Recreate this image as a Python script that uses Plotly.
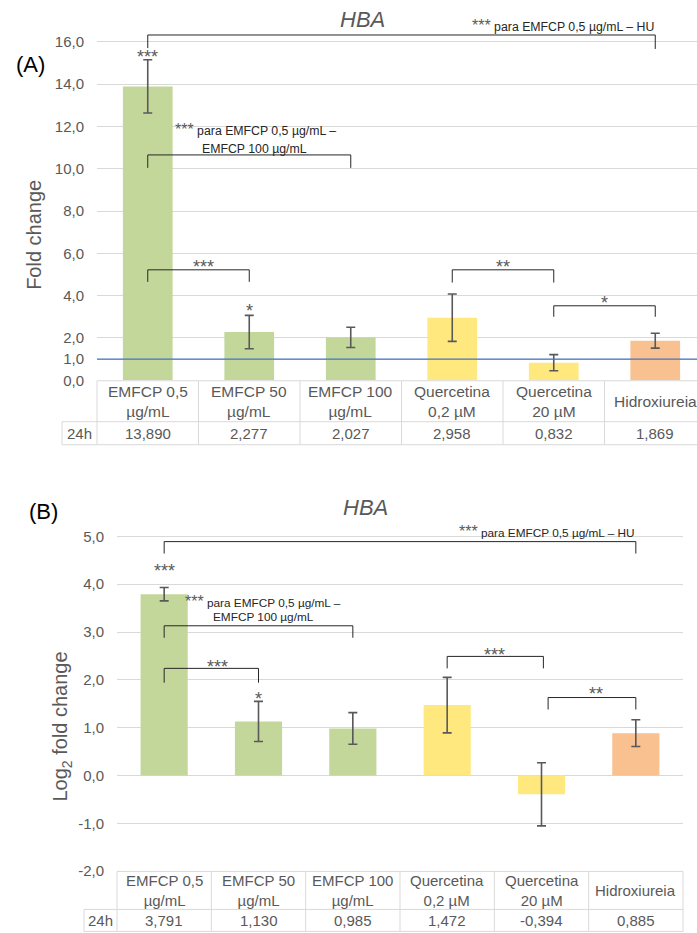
import plotly.graph_objects as go

# ---------------- data ----------------
categories = ["EMFCP 0,5<br>µg/mL", "EMFCP 50<br>µg/mL", "EMFCP 100<br>µg/mL",
              "Quercetina<br>0,2 µM", "Quercetina<br>20 µM", "Hidroxiureia"]
row_label = "24h"
fold_change = [13.890, 2.277, 2.027, 2.958, 0.832, 1.869]
fold_err = [1.26, 0.79, 0.48, 1.12, 0.38, 0.35]
log2_fc = [3.791, 1.130, 0.985, 1.472, -0.394, 0.885]
log2_err = [0.14, 0.42, 0.33, 0.58, 0.66, 0.28]
bar_colors = ["#C4D79B", "#C4D79B", "#C4D79B", "#FFE97F", "#FFE97F", "#F9C18F"]
ticks_a = [0, 1, 2, 4, 6, 8, 10, 12, 14, 16]
ticks_b = [-2, -1, 0, 1, 2, 3, 4, 5]
reference_line_a = 1.0

# brackets: (x0, x1, y_horizontal, y_drop_left, y_drop_right)
brackets_a = [(0, 5, 16.32, 15.7, 15.66), (0, 2, 10.65, 10.04, 10.04),
              (0, 1, 5.22, 4.65, 4.65), (3, 4, 5.22, 4.62, 4.62), (4, 5, 3.52, 3.0, 3.0)]
brackets_b = [(0, 5, 4.89, 4.64, 4.64), (0, 2, 3.13, 2.88, 2.88),
              (0, 1, 2.24, 1.94, 1.94), (3, 4.02, 2.49, 2.24, 2.24), (4.07, 5, 1.63, 1.38, 1.38)]
# star labels: (x, y, text)
stars_a = [(0, 15.47, "***"), (1, 3.47, "*"), (0.55, 5.55, "***"), (3.5, 5.55, "**"), (4.5, 3.85, "*")]
stars_b = [(0, 4.35, "***"), (1, 1.69, "*"), (0.57, 2.36, "***"), (3.5, 2.61, "***"), (4.58, 1.78, "**")]

W, H = 697, 933
SY = 1.008  # small vertical calibration
GRAY = "#595959"
FONT = "Liberation Sans, Arial, sans-serif"


def PX(x):  # screen x pixel -> paper fraction
    return x / W


def PY(y):  # screen y pixel -> paper fraction
    return 1 - y * SY / H


def fmt(v, d):
    return f"{v:.{d}f}".replace(".", ",")


# axis geometry (screen pixels)
xdom_a = [PX(97), 1.0]
xr_a = [-0.5, -0.5 + (W - 97) / 101.5]
ya_px0, ya_unit = 380.5, 21.17
yr_a = [0, 17.0]
ydom_a = [PY(ya_px0), PY(ya_px0 - yr_a[1] * ya_unit)]
xdom_b = [PX(117), PX(683)]
xr_b = [-0.5, 5.5]
yb_px0, yb_unit = 776, 47.86
yr_b = [-2, 5.3]
ydom_b = [PY(yb_px0 - yr_b[0] * yb_unit), PY(yb_px0 - yr_b[1] * yb_unit)]

fig = go.Figure()
fig.add_trace(go.Bar(x=list(range(len(categories))), y=fold_change, width=0.49,
                     marker=dict(color=bar_colors, line=dict(width=0)),
                     error_y=dict(type="data", array=fold_err, color=GRAY, thickness=1.6, width=4.5),
                     xaxis="x", yaxis="y", hoverinfo="skip"))
fig.add_trace(go.Bar(x=list(range(len(categories))), y=log2_fc, width=0.5,
                     marker=dict(color=bar_colors, line=dict(width=0)),
                     error_y=dict(type="data", array=log2_err, color=GRAY, thickness=1.6, width=4.5),
                     xaxis="x2", yaxis="y2", hoverinfo="skip"))

shapes = []
annotations = []


def xp(v, dom, rng):
    return dom[0] + (v - rng[0]) / (rng[1] - rng[0]) * (dom[1] - dom[0])


def line_paper(x0, y0, x1, y1, color="#D9D9D9", width=1):
    shapes.append(dict(type="line", xref="paper", yref="paper", x0=x0, y0=y0, x1=x1, y1=y1,
                       line=dict(color=color, width=width)))


def draw_table(values, xdom, xr, xref, top_px, mid_px, bot_px, left_px, hfs, vfs):
    n = len(categories)
    right = min(xr[1], n - 0.5)
    xl = xp(-0.5, xdom, xr)
    xrgt = xp(right, xdom, xr)
    yt, ym, yb = PY(top_px), PY(mid_px), PY(bot_px)
    line_paper(xl, yt, xrgt, yt)
    line_paper(PX(left_px), ym, xrgt, ym)
    line_paper(PX(left_px), yb, xrgt, yb)
    line_paper(PX(left_px), ym, PX(left_px), yb)
    for i in range(n + 1):
        e = -0.5 + i
        if e <= xr[1] + 1e-9:
            line_paper(xp(e, xdom, xr), yt, xp(e, xdom, xr), yb)
    for i, (c, v) in enumerate(zip(categories, values)):
        annotations.append(dict(x=i, y=(yt + ym) / 2, xref=xref, yref="paper", text=c,
                                showarrow=False, font=dict(size=hfs, color=GRAY, family=FONT),
                                xanchor="center", yanchor="middle"))
        annotations.append(dict(x=i, y=(ym + yb) / 2, xref=xref, yref="paper",
                                text=fmt(v, 3),
                                showarrow=False, font=dict(size=vfs, color=GRAY, family=FONT),
                                xanchor="center", yanchor="middle"))
    annotations.append(dict(x=(PX(left_px) + xl) / 2, y=(ym + yb) / 2, xref="paper", yref="paper",
                            text=row_label, showarrow=False,
                            font=dict(size=vfs, color=GRAY, family=FONT),
                            xanchor="center", yanchor="middle"))


draw_table(fold_change, xdom_a, xr_a, "x", 381, 422, 445, 62, 15.5, 15)
draw_table(log2_fc, xdom_b, xr_b, "x2", 872, 910, 932, 84, 15, 15)

# reference line at fold change 1
shapes.append(dict(type="line", xref="x", yref="y", x0=xr_a[0], x1=xr_a[1],
                   y0=reference_line_a, y1=reference_line_a, line=dict(color="#4472C4", width=1.3)))


def add_brackets(brs, xref, yref):
    for x0, x1, yh, yl, yr in brs:
        shapes.append(dict(type="path", xref=xref, yref=yref,
                           path=f"M {x0},{yl} L {x0},{yh} L {x1},{yh} L {x1},{yr}",
                           line=dict(color="#262626", width=1)))


def add_stars(stars, xref, yref):
    for x, y, t in stars:
        annotations.append(dict(x=x, y=y, xref=xref, yref=yref, text=t, showarrow=False,
                                font=dict(size=18, color=GRAY, family=FONT),
                                xanchor="center", yanchor="middle", yshift=-4))


add_brackets(brackets_a, "x", "y")
add_brackets(brackets_b, "x2", "y2")
add_stars(stars_a, "x", "y")
add_stars(stars_b, "x2", "y2")

STAR = f"<span style='font-size:16px;color:{GRAY}'>***</span> "


def note(x, y, text, xref, yref, xanchor, size=12.3):
    annotations.append(dict(x=x, y=y, xref=xref, yref=yref, text=text, showarrow=False,
                            font=dict(size=size, color="#262626", family=FONT),
                            xanchor=xanchor, yanchor="middle"))


note(5.007, 16.75, STAR + "para EMFCP 0,5 µg/mL – HU", "x", "y", "right")
note(1.066, 11.83, STAR + "para EMFCP 0,5 µg/mL –", "x", "y", "center")
note(1.056, 10.94, "EMFCP 100 µg/mL", "x", "y", "center")
note(5.01, 5.10, STAR + "para EMFCP 0,5 µg/mL – HU", "x2", "y2", "right", 11.8)
note(1.05, 3.64, STAR + "para EMFCP 0,5 µg/mL –", "x2", "y2", "center", 11.8)
note(1.05, 3.32, "EMFCP 100 µg/mL", "x2", "y2", "center", 11.8)

# titles / panel labels / axis titles (screen pixel centres)
for x, y, t in [(363, 20, "<i>HBA</i>"), (365, 508, "<i>HBA</i>")]:
    annotations.append(dict(x=PX(x), y=PY(y), xref="paper", yref="paper", text=t,
                            showarrow=False, font=dict(size=22, color=GRAY, family=FONT),
                            xanchor="center", yanchor="middle"))
for x, y, t in [(30, 65, "(A)"), (43, 512, "(B)")]:
    annotations.append(dict(x=PX(x), y=PY(y), xref="paper", yref="paper", text=t,
                            showarrow=False, font=dict(size=22, color="#000000", family=FONT),
                            xanchor="center", yanchor="middle"))
for x, y, t in [(34, 235, "Fold change"), (62, 727, "Log<sub>2</sub> fold change")]:
    annotations.append(dict(x=PX(x), y=PY(y), xref="paper", yref="paper", text=t,
                            showarrow=False, textangle=-90,
                            font=dict(size=20, color=GRAY, family=FONT),
                            xanchor="center", yanchor="middle"))

xcommon = dict(showticklabels=False, showgrid=False, zeroline=False, showline=False, ticks="")
ycommon = dict(gridcolor="#D9D9D9", gridwidth=1, showline=False, ticks="",
               tickfont=dict(size=15, color=GRAY, family=FONT), ticklabelstandoff=12)

fig.update_layout(
    width=W, height=H, margin=dict(l=0, r=0, t=0, b=0),
    paper_bgcolor="white", plot_bgcolor="white", showlegend=False,
    separators=", ", font=dict(family=FONT, color=GRAY),
    xaxis=dict(domain=xdom_a, range=xr_a, anchor="y", **xcommon),
    yaxis=dict(domain=ydom_a, range=yr_a, anchor="x", tickmode="array", tickvals=ticks_a,
               ticktext=[fmt(v, 1) for v in ticks_a], zeroline=False, **ycommon),
    xaxis2=dict(domain=xdom_b, range=xr_b, anchor="y2", **xcommon),
    yaxis2=dict(domain=ydom_b, range=yr_b, anchor="x2", tickmode="array", tickvals=ticks_b,
                ticktext=[fmt(v, 1) for v in ticks_b], zeroline=True,
                zerolinecolor="#D9D9D9", zerolinewidth=1, **ycommon),
    shapes=shapes, annotations=annotations,
)

fig.write_html("out.html", config={"displayModeBar": False},
               post_script="document.body.style.margin='0';document.body.style.overflow='hidden';")
